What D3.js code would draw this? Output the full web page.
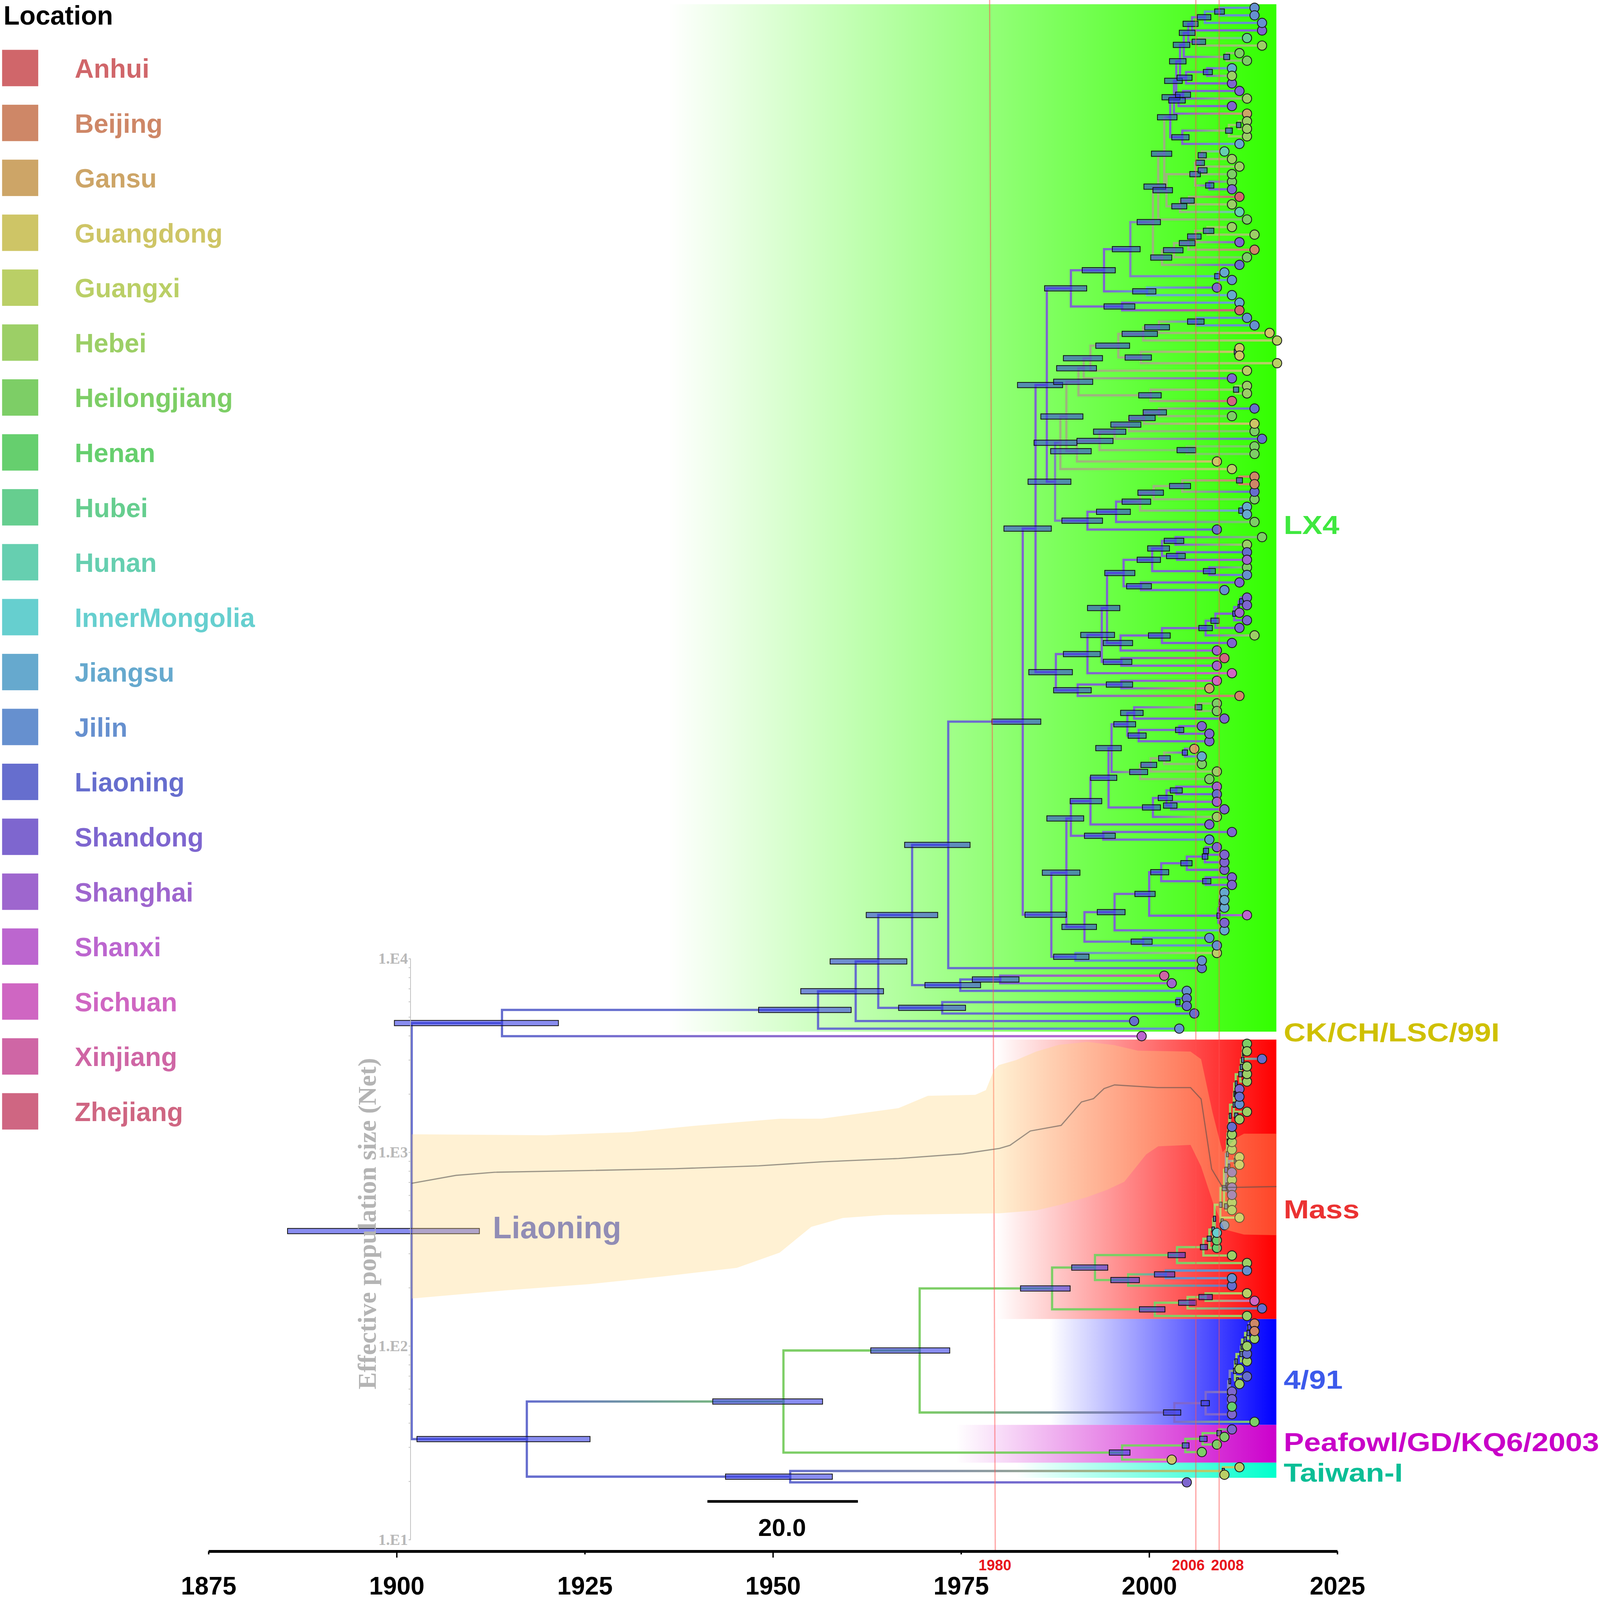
<!DOCTYPE html>
<html>
<head>
<meta charset="utf-8">
<title>Phylogeny by location</title>
<script src="https://cdn.jsdelivr.net/npm/d3@7/dist/d3.min.js"></script>
<style>
    html, body { margin: 0; height: 100%; background: #fff; overflow: hidden; }
    #canvas { width: 100vw; height: 100vh; }
    text { font-family: "Liberation Sans", Arial, sans-serif; font-weight: bold; }
    .serif text, text.serif { font-family: "Liberation Serif", "Times New Roman", serif; }
</style>
</head>
<body>
<div id="canvas"></div>
<script>
// legend
var locationNames = ['Anhui', 'Beijing', 'Gansu', 'Guangdong', 'Guangxi', 'Hebei', 'Heilongjiang', 'Henan', 'Hubei', 'Hunan',
    'InnerMongolia', 'Jiangsu', 'Jilin', 'Liaoning', 'Shandong', 'Shanghai', 'Shanxi', 'Sichuan', 'Xinjiang', 'Zhejiang'];
var locationCodes = ['A', 'B', 'G', 'Gd', 'Gx', 'He', 'Hl', 'Hn', 'Hb', 'Hu', 'IM', 'Js', 'Jl', 'Ln', 'Sd', 'Sh', 'Sx', 'Sc', 'Xj', 'Zj'];
var locationColors = ['#D0666A', '#CE8767', '#CDA567', '#CEC566', '#BACF66', '#9CCF66', '#7DCE66', '#66CF6E', '#66CE8F', '#66CFB0',
    '#66CFCF', '#66A9CE', '#6690CF', '#666ECE', '#7E66CF', '#9E66CE', '#BC66CF', '#CF66C2', '#CF66A5', '#CF6682'];

// tips, top to bottom
var tipYears = [
    2014, 2014, 2015, 2015, 2013, 2015, 2012, 2013, 2011, 2011,
    2011, 2012, 2013, 2011, 2013, 2013, 2013, 2013, 2012, 2010,
    2011, 2012, 2011, 2011, 2011, 2012, 2011, 2012, 2013, 2011,
    2014, 2012, 2014, 2013, 2012, 2010, 2011, 2009, 2011, 2012,
    2012, 2013, 2014, 2016, 2017, 2012, 2012, 2017, 2013, 2011,
    2013, 2013, 2011, 2014, 2011, 2014, 2014, 2015, 2014, 2014,
    2009, 2011, 2014, 2014, 2014, 2014, 2013, 2013, 2014, 2009,
    2015, 2013, 2013, 2013, 2013, 2013, 2012, 2010, 2013, 2013,
    2012, 2013, 2012, 2014, 2011, 2009, 2010, 2009, 2011, 2009,
    2008, 2012, 2009, 2009, 2010, 2007, 2008, 2008, 2006, 2007,
    2007, 2009, 2008, 2009, 2009, 2009, 2010, 2009, 2008, 2011,
    2008, 2009, 2010, 2010, 2010, 2011, 2011, 2010, 2010, 2010,
    2013, 2010, 2010, 2008, 2009, 2009, 2007, 2007, 2002, 2003,
    2005, 2005, 2005, 2006, 1998, 2004, 1999, 2013, 2013, 2015,
    2013, 2013, 2013, 2012, 2012, 2012, 2013, 2012, 2011, 2011,
    2011, 2011, 2012, 2012, 2011, 2011, 2011, 2011, 2011, 2011,
    2012, 2010, 2009, 2009, 2009, 2011, 2013, 2013, 2011, 2011,
    2013, 2014, 2015, 2013, 2014, 2014, 2014, 2013, 2013, 2013,
    2012, 2013, 2012, 2011, 2011, 2011, 2011, 2014, 2011, 2010,
    2009, 2007, 2003, 2012, 2010, 2005];
var tipLocations = (
    'Jl Jl Jl Sd Hb He Hl Hl Js He ' +
    'Sd Sd He Sd G He He He Js Hu ' +
    'He He Hl Hl Sd A He Hu Hl He ' +
    'He Sd B Hl Ln Js Jl Sd Js Js ' +
    'A Jl Jl Gd Gx Gd Gd Gx Gx Sd ' +
    'He He Zj Ln Hl Gd Hl Ln Hl Hl ' +
    'Gd Gx B B Ln Hl Js Js Hl Ln ' +
    'Hl He Ln Sh Hl Jl Sd Jl Sd Sd ' +
    'Sh Sd Sd He Sd Sh Zj Sh Sc Sc ' +
    'G B Hl Hl Sd Sd Sd Sd G Js ' +
    'Hl He Hl Sh Ln Sh Sd He Sd Sd ' +
    'Jl Sd Sd Sd Sd Sd Sd Js Js Js ' +
    'Sx Sd Js Jl Jl Gx Jl Ln Xj Sh ' +
    'Jl Ln Ln Ln Ln Jl Sx Hl He Ln ' +
    'He He He Sd Ln Jl He He Ln He ' +
    'He He Gx Gx Sd He Sd Sd He He ' +
    'Gx Jl IM Hn Hn He He Jl Jl Ln ' +
    'Gx Sc Ln He B B He He Ln He ' +
    'He Ln He Sd Sd Hn Sd Hl Sd Hl ' +
    'Hl Hl Gd Gx Gx Sd').split(' ');

// tree: [year, hpdLow, hpdHigh, location, upper child, lower child]; a bare number is a tip row
var lx4a = [2003.6, 2002.05, 2004.4, 'Sd',
    [2004.1, 2002.7, 2004.9, 'Sd',
        [2004.6, 2003.2, 2005.4, 'Sd',
            [2005.2, 2004, 2006.1, 'Sd',
                [2005.7, 2004.5, 2006.5, 'Sd', [2007.4, 2006.4, 2008.2, 'Jl', [2009.35, 2008.7, 2010, 'Jl', 0, 1], 2], 3],
                [2006.6, 2005.7, 2007.5, 'Mg', 4, 5]],
            [2010.3, 2009.9, 2010.7, 'Mg', 6, 7]],
        [2004.9, 2003.7, 2005.7, 'Sd', [2007.7, 2007.2, 2008.4, 'Sd', 8, 9], 10]],
    [2003.9, 2002.6, 2004.8, 'Sd', [2004.5, 2003.5, 2005.5, 'Sd', 11, 12], 13]];
var lx4b = [2002.8, 2001.1, 2003.7, 'Sd',
    [2003.3, 2001.7, 2004.1, 'Sd', lx4a, 14],
    [2004.4, 2003, 2005.3, 'Sd', [2010.6, 2010.15, 2011.05, 'He', [2011.9, 2011.6, 2012.2, 'He', 15, 16], 17], 18]];
var lx4c = [2002.3, 2000.5, 2003.1, 'Mg',
    [2006.1, 2005.4, 2006.8, 'Mg',
        [2006.8, 2006.2, 2007.35, 'Mg', [2007, 2006.5, 2007.6, 'Mg', 19, 20], [2007.1, 2006.5, 2007.7, 'Mg', 21, 22]],
        [2008, 2007.5, 2008.6, 'Sd', 23, 24]],
    [2004.1, 2003, 2005, 'Mg', [2005.3, 2004.2, 2006, 'Mg', 25, 26], 27]];
var lx4d = [2001.7, 2000.2, 2003, 'Mg',
    [2003.3, 2001.9, 2004.5, 'Mg',
        [2005.2, 2004, 2006.1, 'Mg',
            [2006.1, 2005.1, 2006.9, 'Mg', [2007.75, 2007.2, 2008.6, 'He', 29, 30], 31], 32],
        33], 34];
var lx4e = [1989.6, 1986.1, 1991.7, 'Sd',
    [1994, 1991.1, 1995.5, 'Sd',
        [1997.5, 1995.1, 1998.8, 'Mb',
            [2000.5, 1998.4, 2001.5, 'Mg',
                [2001.2, 1999.3, 2002.2, 'Mg', [2002, 2000.3, 2003, 'Mg', lx4b, lx4c], 28],
                lx4d],
            [2009.1, 2008.7, 2009.35, 'Js', 35, 36]],
        [1999.7, 1997.8, 2000.9, 'Js', 37, 38]],
    [1996.4, 1994, 1998.1, 'Sd', 39, 40]];
var lx4f = [1991.3, 1987.7, 1993, 'Mg',
    [1992.2, 1988.6, 1993.8, 'Mg',
        [1995.9, 1992.9, 1997.4, 'Mg',
            [1999.2, 1996.4, 2001.1, 'Mg', [2001.3, 1999.4, 2002.7, 'Mg', [2006.3, 2005.1, 2007.3, 'Jl', 41, 42], 43], 44],
            [1998.9, 1996.8, 2000.3, 'Mg', [2011.6, 2011.3, 2012, 'Gd', 45, 46], 47]],
        48], 49];
var lx4g = [1990.4, 1986.9, 1992.3, 'Mg',
    [1993.4, 1990.4, 1995.2, 'Mg',
        [1995.4, 1992.6, 1996.9, 'Mg',
            [1997.3, 1994.9, 1998.9, 'Mg',
                [1999.3, 1997.3, 2000.8, 'Mg', [2001.3, 1999.2, 2002.3, 'Mg', 53, 54], 55], 56], 57],
        [2005, 2003.7, 2006.2, 'Hl', 58, 59]], 60];
var lx4h = [1987.5, 1983.9, 1989.6, 'Mb',
    [1988.2, 1984.7, 1990.4, 'Mg',
        [1989, 1985.6, 1991.2, 'Mg',
            [1990.6, 1987.3, 1992.5, 'Mg', lx4f, [2000.2, 1998.6, 2001.6, 'Mg', [2011.5, 2011.2, 2011.9, 'He', 50, 51], 52]],
            lx4g], 61],
    [1991.8, 1988.4, 1993.8, 'Sd',
        [1995.6, 1993, 1997.5, 'Sd',
            [1998.8, 1996.4, 2000.2, 'Mg',
                [2000.6, 1998.5, 2001.9, 'Mg', [2004.4, 2002.7, 2005.5, 'Mg', [2012, 2011.6, 2012.4, 'B', 62, 63], 64], 65],
                [2012.2, 2011.9, 2012.45, 'Js', 66, 67]], 68], 69]];
var lx4i = [1994.4, 1991.8, 1996.1, 'Sd',
    [1996.6, 1994.1, 1998.1, 'Sd',
        [2000.4, 1998.4, 2001.5, 'Sd',
            [2001.7, 1999.8, 2002.7, 'Sd', [2003.5, 2002, 2004.6, 'Sd', 70, 71], [2003.7, 2002.3, 2004.8, 'Sd', 72, 73]],
            [2008, 2007.2, 2008.8, 'Sd', 74, 75]],
        [1998.9, 1997, 2000.3, 'Sd', 76, 77]],
    [1996.2, 1993.9, 1997.8, 'Sd',
        [2001.7, 1999.9, 2002.8, 'Sd',
            [2007.5, 2006.6, 2008.4, 'Sd',
                [2008.8, 2008.2, 2009.3, 'Sd',
                    [2011.3, 2011.1, 2011.5, 'Sd', [2011.9, 2011.8, 2012, 'Sd', [2012.2, 2012, 2012.5, 'Sd', 78, 79], 80], 81], 82], 83], 84], 85]];
var lx4j = [1987.6, 1984, 1989.8, 'Sd',
    [1991.8, 1988.6, 1993.5, 'Sd',
        [1993.7, 1990.9, 1995.4, 'Sd', lx4i, [1996.3, 1993.9, 1997.7, 'Sd', 86, 87]], 88],
    [1990.5, 1987.3, 1992.3, 'Sd', [1996.3, 1994.3, 1997.8, 'Sd', 89, 90], 91]];
var lx4k = [1994.6, 1992.2, 1995.7, 'Sd',
    [1995, 1992.9, 1996.3, 'Sd',
        [1997.1, 1995.3, 1998.2, 'Sd',
            [1998, 1996.2, 1999.2, 'Sd', [2006.6, 2006.1, 2007, 'Mg', 92, 93], 94],
            [1998.6, 1997.2, 1999.6, 'Sd', [2004, 2003.5, 2004.6, 'Sd', 95, 96], 97]],
        [1998.8, 1997.4, 1999.8, 'Mg',
            [2000.2, 1998.9, 2001, 'Mg', [2002, 2001.25, 2002.8, 'Mg', [2004.75, 2004.4, 2005.1, 'Sd', 98, 99], 100], 101], 102]],
    [2000.5, 1999.1, 2001.5, 'Sd',
        [2002.3, 2001.2, 2003.1, 'Sd', [2003.6, 2002.8, 2004.4, 'Sd', 103, 104], [2002.9, 2001.9, 2003.7, 'Sd', 105, 106]], 107]];
var lx4l = [1995.4, 1993.1, 1996.8, 'Sd',
    [2000, 1998.1, 2000.8, 'Sd',
        [2001.6, 2000.2, 2002.6, 'Sd',
            [2005, 2004.2, 2005.7, 'Sd', [2007.4, 2007.05, 2007.8, 'Sd', [2007.5, 2007.2, 2007.9, 'Sd', 111, 112], 113], 114],
            [2007.5, 2007.1, 2008.2, 'Sd', 115, 116]],
        [2009.2, 2009, 2009.4, 'Sd',
            [2009.35, 2009.3, 2009.4, 'Sd', [2009.4, 2009.3, 2009.5, 'Js', [2009.6, 2009.5, 2009.7, 'Js', 117, 118], 119], 120], 121]],
    122];
var lx4m = [1987, 1983.5, 1989, 'Sd',
    [1989, 1985.8, 1990.8, 'Sd',
        [1989.6, 1986.4, 1991.3, 'Sd',
            [1992.2, 1989.5, 1993.7, 'Sd', lx4k, 108],
            [1993.9, 1991.4, 1995.5, 'Sd', 109, 110]],
        [1991.4, 1988.4, 1993, 'Sd', lx4l, [1999.2, 1997.6, 2000.4, 'Jl', 123, 124]]],
    [1990.2, 1987.3, 1992, 'Jl', 125, 126]];
var lx4n = [1983.2, 1979.1, 1985.6, 'Sd',
    [1984.9, 1980.7, 1987, 'Sd', [1986.4, 1982.5, 1988.5, 'Sd', lx4e, lx4h], lx4j],
    lx4m];
var upperTree = [1914, 1899.7, 1921.5, 'Ln',
    [1956, 1948.1, 1960.4, 'Ln',
        [1961, 1953.7, 1964.7, 'Ln',
            [1964, 1957.6, 1967.8, 'Ln',
                [1968.5, 1962.4, 1971.9, 'Ln',
                    [1973.3, 1967.5, 1976.2, 'Ln', lx4n, 127],
                    [1974.9, 1970.2, 1977.6, 'Ln', [1980.2, 1976.5, 1982.7, 'Sd', 128, 129], 130]],
                [1972.5, 1966.7, 1975.6, 'Ln', [2003.7, 2003.5, 2004.1, 'Ln', 131, 132], 133]],
            134], 135],
    136];
var massA = [2010.35, 2010.27, 2010.55, 'He',
    [2010.4, 2010.35, 2010.45, 'He',
        [2010.5, 2010.45, 2010.55, 'He',
            [2010.65, 2010.6, 2010.7, 'He',
                [2010.75, 2010.64, 2010.9, 'He',
                    [2011.25, 2011.15, 2011.4, 'He',
                        [2011.3, 2011.25, 2011.4, 'He',
                            [2011.5, 2011.43, 2011.7, 'He',
                                [2012.1, 2011.9, 2012.36, 'He',
                                    [2012.2, 2012.1, 2012.4, 'He',
                                        [2012.4, 2012.26, 2012.6, 'He',
                                            [2012.45, 2012.4, 2012.55, 'He', [2012.55, 2012.5, 2012.6, 'He', 137, 138], 139], 140], 141], 142],
                                [2011.6, 2011.5, 2011.75, 'Ln', 143, 144]], 145],
                        [2011.55, 2011.34, 2011.8, 'He', 146, 147]], 148], 149], 150], 151],
    [2010.6, 2010.5, 2010.73, 'Mb', [2011.4, 2011.3, 2011.5, 'Gx', 152, 153], 154]];
var massB = [2007.2, 2006.8, 2007.75, 'He',
    [2008, 2007.7, 2008.25, 'He',
        [2008.5, 2008.33, 2008.68, 'He',
            [2008.7, 2008.53, 2008.84, 'He',
                [2009.45, 2009.3, 2009.7, 'He',
                    [2009.95, 2009.7, 2010.27, 'He',
                        [2010.2, 2010.03, 2010.42, 'Mb', massA, [2010.3, 2010.2, 2010.4, 'Mb', 155, [2010.5, 2010.4, 2010.6, 'Sd', 156, 157]]],
                        [2010.25, 2010, 2010.42, 'He', 158, 159]],
                    [2009.7, 2009.55, 2009.85, 'Gx', 160, 161]], 162], 163], 164], 165];
var massTree = [1987.1, 1982.9, 1989.5, 'Hl',
    [1992.8, 1989.7, 1994.5, 'Hl',
        [2003.7, 2002.5, 2004.8, 'Hl', massB, 166],
        [1997.2, 1994.9, 1998.7, 'Hl', [2002.2, 2000.7, 2003.4, 'Jl', 167, 168], 169]],
    [2000.75, 1998.7, 2002.1, 'Hl',
        [2005.1, 2003.9, 2006.25, 'He', [2007.5, 2006.6, 2008.4, 'He', 170, 171], 172], 173]];
var tree491 = [2003.35, 2001.9, 2004.2, 'Sd',
    [2007.5, 2006.9, 2008, 'Sd',
        [2010.5, 2010.4, 2010.6, 'Mb',
            [2010.7, 2010.6, 2010.83, 'Mb',
                [2011.4, 2011.2, 2011.55, 'He',
                    [2011.6, 2011.4, 2011.7, 'He',
                        [2012.2, 2012.05, 2012.45, 'He',
                            [2012.35, 2012.2, 2012.45, 'He',
                                [2012.75, 2012.6, 2012.9, 'He',
                                    [2013.15, 2013, 2013.35, 'He', [2013.25, 2013.1, 2013.55, 'Sd', 174, 175], 176], 177], 178], 179], 180],
                    [2011.7, 2011.6, 2011.85, 'He', 181, 182]], 183],
            [2010.75, 2010.65, 2010.85, 'Sd', 184, 185]], 186],
    187];
var treePeafowl = [1996.4, 1994.7, 1997.45, 'Hl',
    [2004.8, 2004.4, 2005.3, 'Hl',
        [2007.1, 2006.7, 2007.7, 'Hl', [2009.3, 2009, 2009.6, 'Hl', 188, 189], 190], 191],
    192];
var lowerTree = [1917.3, 1902.7, 1925.7, 'Ln',
    [1951.4, 1942, 1956.6, 'Hl',
        [1969.5, 1963, 1973.5, 'Hl', massTree, tree491],
        treePeafowl],
    [1952.3, 1943.7, 1957.9, 'Ln', [2009.8, 2009.7, 2010, 'Gx', 193, 194], 195]];
var rootTree = [1902, 1885.5, 1911, 'Ln', upperTree, lowerTree];

// coloured clade strips
var cladeNames = ['LX4', 'CK/CH/LSC/99I', 'Mass', '4/91', 'Peafowl/GD/KQ6/2003', 'Taiwan-I'];
var cladeColors = ['#33FF00', null, '#FF0000', '#0000FF', '#CC00CC', '#00FFCC'];
var cladeTextColors = ['#3FE83F', '#CFC000', '#EB3232', '#3C5AEB', '#C800C8', '#0ABE96'];
var cladeStartYears = [1936.1, null, 1979.6, 1986.8, 1974.3, 1982.3];
var cladeFirstRows = [-0.47, null, 136.45, 173.4, 187.4, 192.4];
var cladeLastRows = [135.4, null, 173.4, 187.4, 192.4, 194.4];
var cladeEndYear = 2016.9;

// skyline, log10 of effective population size
var skylineUpper = [[1902, 3.093], [1919.8, 3.088], [1931.1, 3.104], [1939.6, 3.137], [1950.9, 3.173], [1956.5, 3.174], [1966.7, 3.228],
    [1970.6, 3.292], [1976.9, 3.297], [1978.3, 3.321], [1979.4, 3.427], [1980, 3.45], [1982.3, 3.476], [1985, 3.52], [1988, 3.555],
    [1991.1, 3.567], [1991.75, 3.57], [1995.3, 3.554], [1998.5, 3.525], [2005.5, 3.52], [2006.9, 3.481], [2008.4, 3.209], [2009.76, 3.001],
    [2011.5, 3.073], [2012.6, 3.096], [2016.9, 3.096]];
var skylineLower = [[1902, 2.245], [1914.2, 2.286], [1925.5, 2.319], [1935.6, 2.36], [1945.2, 2.403], [1950.9, 2.482], [1955.1, 2.615],
    [1959.3, 2.661], [1965, 2.677], [1980.1, 2.685], [1985, 2.7], [1988.3, 2.73], [1991.75, 2.769], [1994.4, 2.806], [1996.7, 2.848],
    [1999.6, 2.989], [2001.2, 3.031], [2005.5, 3.038], [2006.9, 2.926], [2008.5, 2.738], [2010, 2.602], [2012.6, 2.575], [2016.9, 2.572]];
var skylineMean = [[1902, 2.84], [1907.9, 2.881], [1913, 2.897], [1925.5, 2.906], [1936.8, 2.915], [1948.1, 2.93], [1956.5, 2.951],
    [1966.7, 2.968], [1975.2, 2.992], [1980.1, 3.02], [1981.5, 3.036], [1984.2, 3.11], [1988.3, 3.139], [1991, 3.26], [1992.6, 3.277],
    [1994, 3.329], [1995.4, 3.348], [2001.1, 3.334], [2005.5, 3.334], [2006.9, 3.275], [2008.3, 2.914], [2009.76, 2.819], [2011.4, 2.819],
    [2016.9, 2.823]];
var neTicks = [10, 20, 30, 40, 50, 60, 70, 80, 90, 100, 200, 300, 400, 500, 600, 700, 800, 900,
    1000, 2000, 3000, 4000, 5000, 6000, 7000, 8000, 9000, 10000];

var axisYears = [1875, 1900, 1925, 1950, 1975, 2000, 2025];
var markerLabels = ['1980', '2006', '2008'];
var markerTopYears = [1978.8, 2006.2, 2009.3];
var markerBottomYears = [1979.55, 2006.2, 2009.3];
var markerLabelYears = [1979.5, 2005.2, 2010.4];
var scaleBarYears = 20;

var width = 4562, height = 4528;
var mixedColors = { Mg: '#9DB47E', Mb: '#7F82BE' };

function colorOf(code) {
    return mixedColors[code] || locationColors[locationCodes.indexOf(code)];
}

var x = d3.scaleLinear().domain([1875, 2025]).range([594.5, 3813]);
var y = d3.scaleLinear().domain([0, 195]).range([22, 4195]);
var ne = d3.scaleLog().domain([10, 10000]).range([4357, 2713]);

// the drawing is fitted to the window so nothing is cropped
var svg = d3.select('#canvas').append('svg')
    .attr('viewBox', '0 0 ' + width + ' ' + height)
    .attr('preserveAspectRatio', 'none')
    .style('width', '100%').style('height', '100%')
    .style('display', 'block').style('background', '#fff');
var defs = svg.append('defs');

// clade strips
cladeNames.forEach(function(name, i) {
    if (!cladeColors[i]) return;
    var id = 'strip' + i;
    var g = defs.append('linearGradient').attr('id', id);
    g.append('stop').attr('offset', 0).attr('stop-color', cladeColors[i]).attr('stop-opacity', 0);
    g.append('stop').attr('offset', 1).attr('stop-color', cladeColors[i]).attr('stop-opacity', 1);
    svg.append('rect')
        .attr('x', x(cladeStartYears[i])).attr('width', x(cladeEndYear) - x(cladeStartYears[i]))
        .attr('y', y(cladeFirstRows[i])).attr('height', y(cladeLastRows[i]) - y(cladeFirstRows[i]))
        .attr('fill', 'url(#' + id + ')');
});

// tree
var root = d3.hierarchy(rootTree, function(d) { return Array.isArray(d) ? d.slice(4) : null; });
root.eachAfter(function(n) {
    if (n.children) {
        n.year = n.data[0];
        n.row = d3.mean(n.children, function(c) { return c.row; });
        n.loc = n.data[3];
    } else {
        n.year = tipYears[n.data];
        n.row = n.data;
        n.loc = tipLocations[n.data];
    }
});
var nodes = root.descendants();
var inner = nodes.filter(function(n) { return n.children; });
var tips = nodes.filter(function(n) { return !n.children; });
var branches = nodes.filter(function(n) { return n.parent; });

branches.forEach(function(n, i) {
    var g = defs.append('linearGradient').attr('id', 'b' + i).attr('gradientUnits', 'userSpaceOnUse')
        .attr('x1', x(n.parent.year)).attr('x2', x(n.year)).attr('y1', 0).attr('y2', 0);
    g.append('stop').attr('offset', 0).attr('stop-color', colorOf(n.parent.loc));
    g.append('stop').attr('offset', 1).attr('stop-color', colorOf(n.loc));
    n.gradient = 'url(#b' + i + ')';
});

svg.append('g').selectAll('path').data(branches).enter().append('path')
    .attr('d', function(n) {
        return 'M' + x(n.parent.year) + ',' + y(n.parent.row) + 'V' + y(n.row) + 'H' + x(n.year);
    })
    .attr('fill', 'none').attr('stroke', function(n) { return n.gradient; })
    .attr('stroke-width', 6.4).attr('stroke-linecap', 'square');

svg.append('g').selectAll('rect').data(inner).enter().append('rect')
    .attr('x', function(n) { return x(n.data[1]); })
    .attr('width', function(n) { return x(n.data[2]) - x(n.data[1]); })
    .attr('y', function(n) { return y(n.row) - 7.5; })
    .attr('height', 15)
    .attr('fill', 'rgb(47,54,228)').attr('fill-opacity', 0.57)
    .attr('stroke', '#111').attr('stroke-width', 2.2);

svg.append('g').selectAll('circle').data(tips).enter().append('circle')
    .attr('cx', function(n) { return x(n.year); })
    .attr('cy', function(n) { return y(n.row); })
    .attr('r', 13.2)
    .attr('fill', function(n) { return colorOf(n.loc); })
    .attr('stroke', '#1a1a1a').attr('stroke-width', 2.4);

// red year markers
markerLabels.forEach(function(label, i) {
    svg.append('line')
        .attr('x1', x(markerTopYears[i])).attr('x2', x(markerBottomYears[i]))
        .attr('y1', 0).attr('y2', 4390)
        .attr('stroke', 'rgb(255,80,80)').attr('stroke-opacity', 0.5).attr('stroke-width', 3.6);
    svg.append('text').attr('x', x(markerLabelYears[i])).attr('y', 4444)
        .attr('text-anchor', 'middle').attr('font-size', 42).attr('fill', '#E8141C').text(label);
});

// skyline
var skyPoint = d3.line()
    .x(function(d) { return x(d[0]); })
    .y(function(d) { return ne(Math.pow(10, d[1])); });
svg.append('path')
    .attr('d', skyPoint(skylineUpper.concat(skylineLower.slice().reverse())) + 'Z')
    .attr('fill', 'rgb(255,212,121)').attr('fill-opacity', 0.33);
svg.append('path').attr('d', skyPoint(skylineMean)).attr('fill', 'none')
    .attr('stroke', '#4a4a4a').attr('stroke-opacity', 0.55).attr('stroke-width', 3.4);

// root location label
svg.append('text').attr('x', 1405).attr('y', 3504).attr('font-size', 88).attr('fill', '#918DB5').text('Liaoning');

// population axis
var neAxis = svg.append('g').attr('class', 'serif').attr('transform', 'translate(1170,0)')
    .call(d3.axisLeft(ne).tickValues(neTicks).tickSize(5).tickPadding(2).tickFormat(function(d) {
        var e = Math.log10(d);
        return Number.isInteger(e) ? '1.E' + e : '';
    }));
neAxis.selectAll('path,line').attr('stroke', '#BDBDBD').attr('stroke-width', 2);
neAxis.selectAll('text').attr('fill', '#B8B8B8').attr('font-size', 44);
svg.append('text').attr('class', 'serif')
    .attr('transform', 'translate(1071,3463) rotate(-90)')
    .attr('text-anchor', 'middle').attr('font-size', 73).attr('fill', '#B4B4B4')
    .text('Effective population size (Net)');

// time axis
var timeAxis = svg.append('g').attr('transform', 'translate(0,4390)')
    .call(d3.axisBottom(x).tickValues(axisYears).tickSizeInner(18).tickSizeOuter(0).tickFormat(d3.format('d')));
timeAxis.select('.domain').attr('stroke', '#000').attr('stroke-width', 8);
timeAxis.selectAll('.tick line').attr('stroke', '#000').attr('stroke-width', 4)
    .attr('y2', function(d) { return d % 50 === 0 ? 18 : 9; });
timeAxis.selectAll('.tick text').attr('y', 72).attr('dy', 50).attr('font-size', 71).attr('fill', '#000');

// scale bar
svg.append('line').attr('x1', 2017).attr('x2', 2017 + x(scaleBarYears + 1875) - x(1875))
    .attr('y1', 4249).attr('y2', 4249).attr('stroke', '#000').attr('stroke-width', 7.5);
svg.append('text').attr('x', 2230).attr('y', 4347).attr('text-anchor', 'middle')
    .attr('font-size', 70).attr('fill', '#000').text(scaleBarYears.toFixed(1));

// clade labels, the originals are stretched wide
var cladeLabelRows = [69.6, 136.7, 160.1, 182.6, 190.9, 194.9];
cladeNames.forEach(function(name, i) {
    svg.append('text')
        .attr('transform', 'translate(3660,' + y(cladeLabelRows[i]) + ') scale(1.17,1)')
        .attr('font-size', 74).attr('fill', cladeTextColors[i]).text(name);
});

// legend
svg.append('text').attr('x', 10).attr('y', 70).attr('font-size', 75).attr('fill', '#000').text('Location');
var legend = svg.append('g').selectAll('g').data(locationNames).enter().append('g')
    .attr('transform', function(d, i) { return 'translate(0,' + (141 + i * 155.4) + ')'; });
legend.append('rect').attr('x', 6).attr('width', 103).attr('height', 103)
    .attr('fill', function(d, i) { return locationColors[i]; });
legend.append('text').attr('x', 213).attr('y', 79).attr('font-size', 75.2)
    .attr('fill', function(d, i) { return locationColors[i]; })
    .text(function(d) { return d; });
</script>
</body>
</html>
